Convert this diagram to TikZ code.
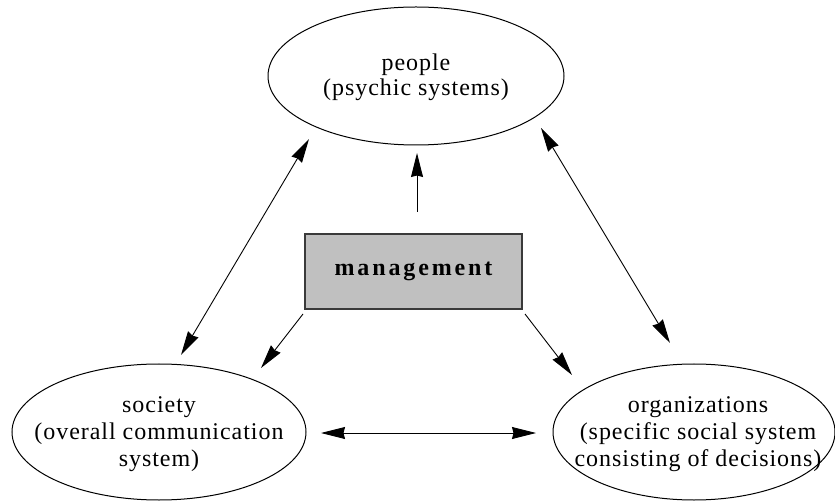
\documentclass[tikz,border=0pt]{standalone}
\usepackage{fontspec}
\setmainfont{Liberation Serif}
\usetikzlibrary{arrows.meta,shapes.geometric}
\definecolor{boxfill}{HTML}{C0C0C0}
\definecolor{boxline}{HTML}{3A3A3A}
\begin{document}
\begin{tikzpicture}[x=1pt,y=-1pt,
  ell/.style={draw, ellipse, line width=1pt, inner sep=0pt},
  txt/.style={align=center, inner sep=0pt, font=\fontsize{24}{#1}\selectfont\addfontfeature{LetterSpace=4}},
  mbox/.style={draw=boxline, fill=boxfill, line width=1.5pt, minimum width=217pt, minimum height=75pt, inner sep=0pt,
    font=\fontsize{24}{26}\selectfont\bfseries\addfontfeature{LetterSpace=12}},
  conn/.style={line width=0.9pt, -{Stealth[length=24pt,width=12pt,inset=1.5pt]}},
  conn2/.style={line width=0.9pt, {Stealth[length=24pt,width=12pt,inset=1.5pt]}-{Stealth[length=24pt,width=12pt,inset=1.5pt]}}]
\useasboundingbox (0,0) rectangle (835,502);
\node[ell, minimum width=296pt, minimum height=138pt,
  label={[txt=25, yshift=-1pt]center:{people\\(psychic systems)}}] (people) at (416,76) {};
\node[ell, minimum width=294pt, minimum height=136pt,
  label={[txt=27, yshift=-2pt]center:{society\\(overall communication\\system)}}] (society) at (159,432) {};
\node[ell, minimum width=282pt, minimum height=136pt,
  label={[txt=27, xshift=4pt, yshift=-2pt]center:{organizations\\(specific social system\\consisting of decisions)}}] (org) at (694,432) {};
\node[mbox] (mgmt) at (413.5,271.5) {management};
\draw[conn] ([shift={(3.5,-59.5)}]mgmt.center) -- ([shift={(1,77)}]people.center);
\draw[conn2] ([shift={(-107,63)}]people.center) -- ([shift={(22,-77)}]society.center);
\draw[conn2] ([shift={(125,52)}]people.center) -- ([shift={(-24,-89)}]org.center);
\draw[conn] ([shift={(-110.5,42.5)}]mgmt.center) -- ([shift={(102,-64)}]society.center);
\draw[conn] ([shift={(111.5,42.5)}]mgmt.center) -- ([shift={(-122,-57)}]org.center);
\draw[conn2] ([shift={(162,1)}]society.center) -- ([shift={(-158,1)}]org.center);
\end{tikzpicture}
\end{document}
